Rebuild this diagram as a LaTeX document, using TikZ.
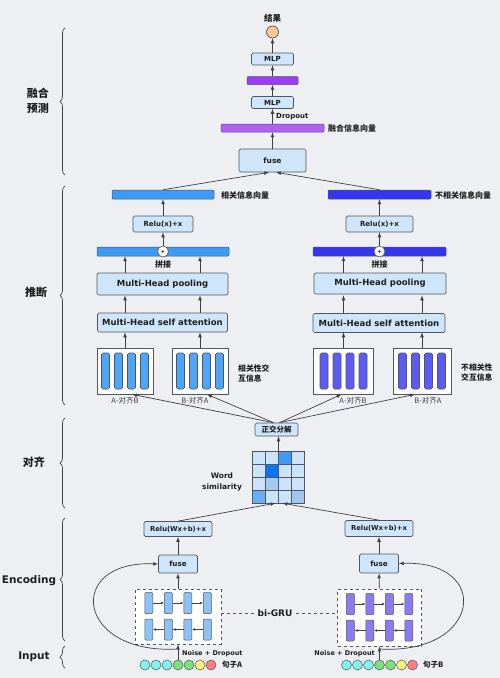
\documentclass[tikz,border=0pt]{standalone}
\usepackage{fontspec}
\setmainfont{DejaVu Sans}
\newfontfamily\cjk{Noto Sans CJK SC}
\usepackage{xcolor}
\usepackage{tikz}
\usetikzlibrary{arrows}
\usetikzlibrary{arrows.meta}
\usetikzlibrary{shapes}
\usetikzlibrary{positioning}
\usetikzlibrary{decorations.pathreplacing}
\tikzset{>=latex}
\definecolor{bg}{HTML}{EDEFF3}
\definecolor{boxfill}{HTML}{CFE5FA}
\definecolor{boxline}{HTML}{505560}
\definecolor{lineclr}{HTML}{404040}
\definecolor{txt}{HTML}{1E1E1E}
\definecolor{purp}{HTML}{9B3DF5}
\definecolor{purpL}{HTML}{B060F2}
\definecolor{relB}{HTML}{3D9BF5}
\definecolor{irrB}{HTML}{3535F0}
\definecolor{matL}{HTML}{4DA6F7}
\definecolor{matR}{HTML}{5C5CF2}
\definecolor{encL}{HTML}{8CC2F5}
\definecolor{encR}{HTML}{8A7CF0}
\definecolor{tokC}{HTML}{7FF5EE}
\definecolor{tokG}{HTML}{7CE07C}
\definecolor{tokY}{HTML}{FFF27A}
\definecolor{tokR}{HTML}{FF7F7F}
\definecolor{peach}{HTML}{FFC896}
\definecolor{simL}{HTML}{CCE4FB}
\definecolor{simM}{HTML}{3D9AF5}
\definecolor{simD}{HTML}{0A74F2}
\definecolor{simP}{HTML}{A3CBF0}
\definecolor{simQ}{HTML}{6AAEF2}
\definecolor{simR}{HTML}{A0C6EE}
\tikzstyle{box} = [rectangle, rounded corners=1.5pt, draw=boxline, fill=boxfill, line width=0.7pt, inner sep=0pt, text=txt, font=\bfseries\fontsize{7}{8}\selectfont]
\tikzstyle{bigbox} = [box, font=\bfseries\fontsize{8.5}{10}\selectfont]
\tikzstyle{vec} = [rectangle, rounded corners=1pt, draw=boxline, line width=0.5pt, inner sep=0pt]
\tikzstyle{flow} = [-latex, draw=lineclr, line width=0.7pt]
\tikzstyle{gflow} = [-{Latex[length=3pt,width=2.6pt]}, draw=lineclr, line width=0.5pt]
\tikzstyle{zh} = [font=\cjk\bfseries\fontsize{8}{9.5}\selectfont, text=txt, inner sep=0pt]
\tikzstyle{en} = [font=\bfseries\fontsize{7}{8}\selectfont, text=txt, inner sep=0pt]
\tikzstyle{strip} = [rectangle, rounded corners=1.5pt, draw=boxline, line width=0.6pt, inner sep=0pt, minimum width=8pt, minimum height=36pt]
\tikzstyle{gcell} = [rectangle, rounded corners=1pt, draw=boxline, line width=0.5pt, inner sep=0pt, minimum width=8pt, minimum height=21pt]
\tikzstyle{token} = [circle, draw=boxline, line width=0.5pt, inner sep=0pt, minimum size=10pt]
\tikzstyle{hub} = [rectangle, draw=boxline, line width=0.9pt, dashed, fill=white, inner sep=0pt]
\tikzstyle{brc} = [decorate, decoration={brace, amplitude=5pt}, draw=lineclr, line width=0.7pt]
\tikzstyle{side} = [font=\cjk\bfseries\fontsize{11}{15}\selectfont, align=center, text=txt, inner sep=0pt]

\begin{document}
\begin{tikzpicture}[x=1pt, y=-1pt]
\fill [bg] (0,0) rectangle (500,678);
\useasboundingbox (0,0) rectangle (500,678);

% stages
\draw [brc] (65,175) -- (65,28);
\draw [brc] (65,405) -- (65,186);
\draw [brc] (65,508) -- (65,418);
\draw [brc] (65,641) -- (65,518);
\draw [brc] (65,668) -- (65,646);
\node [side] (stFuse) at (38,101) {融合\\预测};
\node [side] (stInfer) at (36,292) {推断};
\node [side] (stAlign) at (34,462) {对齐};
\node [side, font=\bfseries\fontsize{10.5}{12}\selectfont] (stEnc) at (29,581) {Encoding};
\node [side, font=\bfseries\fontsize{10.5}{12}\selectfont] (stIn) at (34,657) {Input};

% prediction
\node [zh, font=\cjk\bfseries\fontsize{8.5}{10}\selectfont] (res) at (272.5,18) {结果};
\node [circle, draw=boxline, fill=peach, line width=0.7pt, minimum size=12pt, inner sep=0pt] (out) at (272.5,32) {};
\node [box, minimum width=42pt, minimum height=12pt] (mlpB) at (272.5,59) {MLP};
\node [vec, fill=purp, minimum width=51pt, minimum height=8pt] (hid) at (272.5,80.5) {};
\node [box, minimum width=42pt, minimum height=12pt] (mlpA) at (272.5,102.5) {MLP};
\node [en, anchor=west] (drop) at (276,117) {Dropout};
\node [vec, fill=purpL, minimum width=103pt, minimum height=8pt] (fvec) at (272.5,128) {};
\node [zh, anchor=west] (fvecl) at (328,128) {融合信息向量};
\node [box, minimum width=67pt, minimum height=23pt, font=\bfseries\fontsize{7.5}{9}\selectfont] (fuseT) at (272.5,160.5) {fuse};
\draw [flow] (fuseT) -- (fvec);
\draw [flow] (fvec) -- (mlpA);
\draw [flow] (mlpA) -- (hid);
\draw [flow] (hid) -- (mlpB);
\draw [flow] (mlpB) -- (out);

% inference vectors
\node [vec, fill=relB, minimum width=102pt, minimum height=9pt] (relvec) at (163,194.5) {};
\node [zh, anchor=west] (relvecl) at (221,195) {相关信息向量};
\node [vec, fill=irrB, minimum width=103pt, minimum height=9pt] (irrvec) at (379.5,194.5) {};
\node [zh, anchor=west] (irrvecl) at (435,195) {不相关信息向量};
\draw [flow] (relvec.north) -- ([xshift=-3.5pt]fuseT.south);
\draw [flow] (irrvec.north) -- ([xshift=3.5pt]fuseT.south);

% related branch
\node [box, minimum width=60pt, minimum height=16pt] (reluL) at (163,224) {Relu(x)+x};
\node [vec, fill=relB, minimum width=132pt, minimum height=9pt] (catL) at (163,251.5) {};
\node [circle, draw=boxline, fill=white, line width=0.6pt, minimum size=11pt, inner sep=0pt, font=\bfseries\fontsize{5}{5}\selectfont] (plusL) at (163,251.5) {+};
\node [zh] (catLl) at (163,264) {拼接};
\node [bigbox, minimum width=131pt, minimum height=22pt] (poolL) at (162.5,284) {Multi-Head pooling};
\node [bigbox, minimum width=130pt, minimum height=19pt] (attL) at (162.5,322.5) {Multi-Head self attention};
\node [rectangle, draw=boxline, fill=white, line width=0.7pt, minimum width=56pt, minimum height=46pt] (mAL) at (125,371) {};
\node [rectangle, draw=boxline, fill=white, line width=0.7pt, minimum width=56pt, minimum height=46pt] (mBL) at (200,371) {};
\node [zh, align=left, anchor=west, font=\cjk\bfseries\fontsize{7.8}{10}\selectfont] (relinfo) at (238,373.5) {相关性交\\互信息};

% unrelated branch
\node [box, minimum width=67pt, minimum height=16pt] (reluR) at (379.5,224) {Relu(x)+x};
\node [vec, fill=irrB, minimum width=133pt, minimum height=9pt] (catR) at (379.5,251.5) {};
\node [circle, draw=boxline, fill=white, line width=0.6pt, minimum size=11pt, inner sep=0pt, font=\bfseries\fontsize{5}{5}\selectfont] (plusR) at (379.5,251.5) {+};
\node [zh] (catRl) at (379.5,264) {拼接};
\node [bigbox, minimum width=132pt, minimum height=21pt] (poolR) at (380,283.5) {Multi-Head pooling};
\node [bigbox, minimum width=132pt, minimum height=19pt] (attR) at (379,323) {Multi-Head self attention};
\node [rectangle, draw=boxline, fill=white, line width=0.7pt, minimum width=60pt, minimum height=46pt] (mAR) at (343.5,371) {};
\node [rectangle, draw=boxline, fill=white, line width=0.7pt, minimum width=58pt, minimum height=46pt] (mBR) at (422,371) {};
\node [zh, align=left, anchor=west, font=\cjk\bfseries\fontsize{7.8}{10}\selectfont] (irrinfo) at (461,372.5) {不相关性\\交互信息};

\foreach \m/\col in {mAL/matL, mBL/matL, mAR/matR, mBR/matR}
  \foreach \dx [count=\k] in {-19.5,-6.5,6.5,19.5}
    \node [strip, fill=\col] (\m-\k) at ([xshift=\dx pt]\m.center) {};

\foreach \m in {mAL, mBL, mAR, mBR} {
  \draw [flow] (\m.north) -- (\m.north |- attL.south);
  \draw [flow] (\m.north |- attL.north) -- (\m.north |- poolL.south);
  \draw [flow] (\m.north |- poolL.north) -- (\m.north |- catL.south);
}
\draw [flow] (plusL) -- (reluL);
\draw [flow] (reluL) -- (relvec);
\draw [flow] (plusR) -- (reluR);
\draw [flow] (reluR) -- (irrvec);

\node [font=\cjk\fontsize{7.5}{9}\selectfont, text=txt!85, inner sep=0pt] (mALl) at (125,401) {A-对齐B};
\node [font=\cjk\fontsize{7.5}{9}\selectfont, text=txt!85, inner sep=0pt] (mBLl) at (195,401) {B-对齐A};
\node [font=\cjk\fontsize{7.5}{9}\selectfont, text=txt!85, inner sep=0pt] (mARl) at (353,401) {A-对齐B};
\node [font=\cjk\fontsize{7.5}{9}\selectfont, text=txt!85, inner sep=0pt] (mBRl) at (428,401) {B-对齐A};

% alignment
\node [box, minimum width=43pt, minimum height=13pt, font=\cjk\bfseries\fontsize{7.5}{9}\selectfont] (orth) at (276.5,429.5) {正交分解};
\draw [flow] ([xshift=-3pt]orth.north) -- ([xshift=7pt]mAL.south);
\draw [flow] ([xshift=-3pt]orth.north) -- ([xshift=7pt]mBL.south);
\draw [flow] ([xshift=3pt]orth.north) -- ([xshift=-2pt]mAR.south);
\draw [flow] ([xshift=3pt]orth.north) -- ([xshift=-7pt]mBR.south);

\node [rectangle, fill=simL, minimum size=51pt, inner sep=0pt] (sim) at (278.5,477.5) {};
\foreach \r/\c/\col in {0/2/simM, 1/1/simD, 2/1/simP, 3/0/simQ, 3/3/simR}
  \fill [\col] ([xshift=\c*12.75pt, yshift=-\r*12.75pt]sim.north west) rectangle +(12.75pt,-12.75pt);
\foreach \i in {1,2,3} {
  \draw [boxline, line width=0.6pt] ([xshift=\i*12.75pt]sim.north west) -- ([xshift=\i*12.75pt]sim.south west);
  \draw [boxline, line width=0.6pt] ([yshift=-\i*12.75pt]sim.north west) -- ([yshift=-\i*12.75pt]sim.north east);
}
\draw [boxline, line width=0.8pt] (sim.north west) rectangle (sim.south east);
\node [en, align=center, font=\bfseries\fontsize{7.5}{11}\selectfont] (siml) at (222,481.5) {Word\\similarity};
\draw [flow] (sim.north) -- (sim.north |- orth.south);

% encoding
\node [box, minimum width=68pt, minimum height=15pt, font=\bfseries\fontsize{6.8}{8}\selectfont] (encRL) at (178,529) {Relu(Wx+b)+x};
\node [box, minimum width=68pt, minimum height=16pt, font=\bfseries\fontsize{6.8}{8}\selectfont] (encRR) at (379,528.5) {Relu(Wx+b)+x};
\node [box, minimum width=39pt, minimum height=18pt, font=\bfseries\fontsize{7.2}{8}\selectfont] (fuseL) at (178,564) {fuse};
\node [box, minimum width=39pt, minimum height=19pt, font=\bfseries\fontsize{7.2}{8}\selectfont] (fuseR) at (379,563.5) {fuse};
\node [hub, minimum width=86pt, minimum height=55pt] (gruL) at (178,616.5) {};
\node [hub, minimum width=84pt, minimum height=57pt] (gruR) at (379.5,617.5) {};
\node [en, font=\bfseries\fontsize{9}{10}\selectfont] (bigru) at (275,613) {bi-GRU};
\draw [boxline, dashed, line width=0.7pt] (bigru.west -| gruL.east) -- ([xshift=-3pt]bigru.west);
\draw [boxline, dashed, line width=0.7pt] ([xshift=3pt]bigru.east) -- (bigru.east -| gruR.west);

\foreach \g/\col in {L/encL, R/encR} {
  \foreach \dx [count=\k] in {-29.25,-9.75,9.75,29.25} {
    \node [gcell, fill=\col] (\g t\k) at ([xshift=\dx pt, yshift=13.5pt]gru\g.center) {};
    \node [gcell, fill=\col] (\g b\k) at ([xshift=\dx pt, yshift=-13pt]gru\g.center) {};
  }
  \foreach \k [count=\n from 2] in {1,2,3} {
    \draw [gflow] (\g t\k) -- (\g t\n);
    \draw [gflow] (\g b\n) -- (\g b\k);
  }
}

\draw [flow] (gruL) -- (fuseL);
\draw [flow] (fuseL) -- (encRL);
\draw [flow] (gruR) -- (fuseR);
\draw [flow] (fuseR) -- (encRR);
\draw [flow] (encRL.north) -- ([xshift=-3pt]sim.south);
\draw [flow] (encRR.north) -- ([xshift=4pt]sim.south);

% input
\foreach \g/\cx in {A/178, B/379.5}
  \foreach \col [count=\k] in {tokC,tokC,tokC,tokG,tokG,tokY,tokR}
    \node [token, fill=\col] (s\g\k) at ({\cx+(\k-4)*11},665) {};
\node [zh, anchor=west, font=\cjk\bfseries\fontsize{7.5}{9}\selectfont] (sentA) at (222,665) {句子A};
\node [zh, anchor=west, font=\cjk\bfseries\fontsize{7.5}{9}\selectfont] (sentB) at (423,665) {句子B};
\node [en, anchor=west, font=\bfseries\fontsize{6.5}{8}\selectfont] (noiseA) at (182,654) {Noise + Dropout};
\node [en, anchor=east, font=\bfseries\fontsize{6.5}{8}\selectfont] (noiseB) at (375,654) {Noise + Dropout};
\coordinate (tapL) at (178,649);
\coordinate (tapR) at (379.5,649);
\draw [flow] (sA4.north) -- (gruL.south);
\draw [flow] (sB4.north) -- (gruR.south);
\draw [flow] (tapL) .. controls (75,655) and (65,560) .. (fuseL.west);
\draw [flow] (tapR) .. controls (482,655) and (492,560) .. (fuseR.east);
\end{tikzpicture}
\end{document}
